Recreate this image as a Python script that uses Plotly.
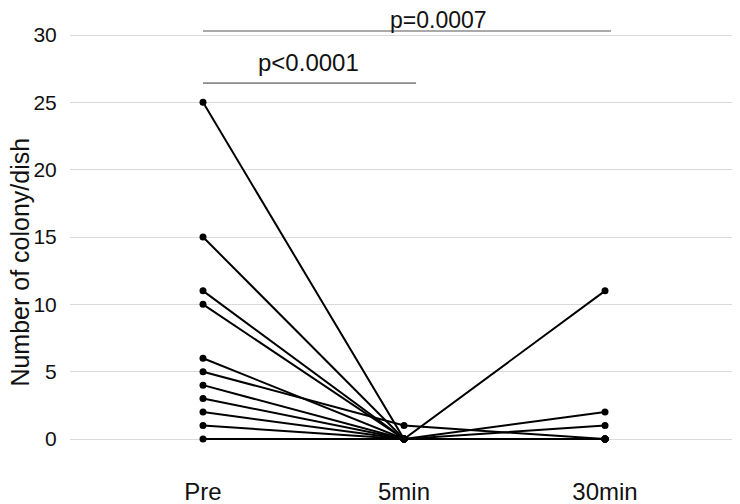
import plotly.graph_objects as go

categories = ["Pre", "5min", "30min"]
pre_vals = [25, 15, 11, 10, 6, 5, 4, 3, 2, 1, 0]
min5_vals = [0, 0, 0, 0, 0, 1, 0, 0, 0, 0, 0]
min30_vals = [11, 2, 1, 0, 0, 0, 0, 0, 0, 0, 0]
y_ticks = [0, 5, 10, 15, 20, 25, 30]

# significance brackets
brackets = [
    {"x0": 0, "x1": 1.06, "y": 26.43, "text": "p<0.0001", "tx": 0.525, "ty": 27.96, "size": 24},
    {"x0": 0, "x1": 2.03, "y": 30.30, "text": "p=0.0007", "tx": 1.174, "ty": 31.15, "size": 23},
]

FONT = "Liberation Sans, Arial, Helvetica, sans-serif"

fig = go.Figure()
xs = list(range(len(categories)))
for a, b, c in zip(pre_vals, min5_vals, min30_vals):
    fig.add_trace(go.Scatter(
        x=xs, y=[a, b, c], mode="lines+markers",
        line=dict(color="black", width=2),
        marker=dict(color="black", size=7),
        showlegend=False, hoverinfo="skip", cliponaxis=False,
    ))

for br in brackets:
    fig.add_shape(type="line", xref="x", yref="y",
                  x0=br["x0"], x1=br["x1"], y0=br["y"], y1=br["y"],
                  line=dict(color="#8c8c8c", width=1.6))
    fig.add_annotation(x=br["tx"], y=br["ty"], xref="x", yref="y",
                       text=br["text"], showarrow=False,
                       xanchor="center", yanchor="middle",
                       font=dict(size=br["size"], color="#111", family=FONT))

fig.add_annotation(x=-0.0746, y=13.1, xref="paper", yref="y",
                   text="Number of colony/dish", textangle=-90, showarrow=False,
                   xanchor="center", yanchor="middle",
                   font=dict(size=25, color="#111", family=FONT))

fig.update_layout(
    width=732, height=496,
    margin=dict(l=62, r=0, t=0, b=44, autoexpand=False),
    plot_bgcolor="white", paper_bgcolor="white",
    font=dict(family=FONT, color="#111"),
    xaxis=dict(
        range=[-0.6617, 2.6716], tickmode="array", tickvals=xs, ticktext=categories,
        showgrid=False, zeroline=False, showline=False, automargin=False,
        ticks="outside", ticklen=10, tickcolor="rgba(0,0,0,0)",
        tickfont=dict(size=24),
    ),
    yaxis=dict(
        range=[-1.559, 32.005], tickmode="array", tickvals=y_ticks,
        showgrid=True, gridcolor="#dadada", gridwidth=1.3,
        zeroline=False, showline=False, automargin=False,
        ticks="outside", ticklen=8, tickcolor="rgba(0,0,0,0)",
        tickfont=dict(size=21),
    ),
)

fig.write_html("out.html")
